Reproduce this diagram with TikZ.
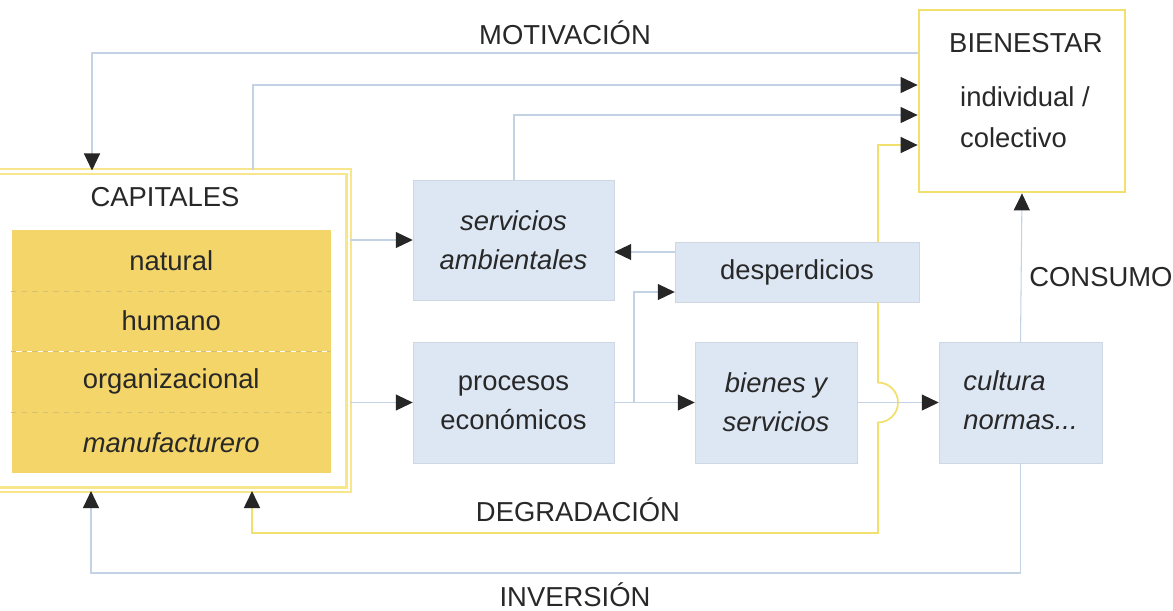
\documentclass[tikz,border=0pt]{standalone}
\usepackage{fontspec}
\setmainfont{Liberation Sans}
\usetikzlibrary{arrows.meta}
\definecolor{boxblue}{RGB}{221,231,244}
\definecolor{capyellow}{RGB}{243,213,105}
\definecolor{frameyellow}{RGB}{248,230,140}
\definecolor{linkblue}{RGB}{196,210,230}
\definecolor{wasteyellow}{RGB}{242,224,110}
\definecolor{txt}{RGB}{40,40,40}
\begin{document}
\begin{tikzpicture}[x=0.02cm, y=-0.02cm,
  every node/.style={font=\fontsize{15.6}{22}\selectfont, text=txt},
  it/.style={font=\fontsize{15.6}{22}\selectfont\itshape},
  box/.style={fill=boxblue, draw=boxblue!85!gray, line width=0.3pt, inner sep=0pt, align=center},
  row/.style={fill=capyellow, minimum width=6.39cm, minimum height=1.215cm, inner sep=0pt},
  frame/.style={draw=frameyellow, double=white, double distance=1.6pt, line width=1.2pt, inner sep=0pt},
  sep/.style={draw=capyellow!75!gray, dashed, line width=0.5pt},
  link/.style={draw=linkblue, line width=0.6pt},
  wasteline/.style={draw=wasteyellow, line width=1pt},
  head/.style={-{Triangle[length=0.34cm, width=0.32cm, color=black!85]}}]
\path[use as bounding box, fill=white] (0, 0) rectangle (1173, 610);

\node (CAPF) at (169.5, 330.75) [frame, minimum width=7.18cm, minimum height=6.37cm] {};
\node (CAPT) at (165, 197) {CAPITALES};
\node (NAT) at (171.25, 260.4) [row] {natural};
\node (HUM) at (171.25, 321.1) [row] {humano};
\node (ORG) at (171.25, 381.9) [row] {organizacional};
\node (MAN) at (171.25, 442.6) [row, it] {manufacturero};
\draw[sep] (NAT.south west) -- (NAT.south east);
\draw[sep] (HUM.south west) -- (HUM.south east);
\draw[sep] (ORG.south west) -- (ORG.south east);

\node (SERV) at (513.5, 240) [box, it, minimum width=4.02cm, minimum height=2.4cm] {servicios\\ambientales};
\node (PROC) at (513.5, 402.5) [box, minimum width=4.02cm, minimum height=2.42cm] {procesos\\económicos};
\node (DESP) at (797, 272) [box, minimum width=4.88cm, minimum height=1.2cm] {desperdicios};
\node (BYS) at (776, 402.5) [box, it, minimum width=3.24cm, minimum height=2.42cm] {bienes y\\servicios};
\node (CULT) at (1020.5, 402.5) [box, it, minimum width=3.26cm, minimum height=2.42cm] {\begin{tabular}{@{}l@{}}cultura\\normas...\end{tabular}};

\node (BIEN) at (1022, 101) [draw=wasteyellow, line width=1.6pt, fill=white, minimum width=4.12cm, minimum height=3.64cm] {};
\node (BT) at (943, 43) [anchor=west] {BIENESTAR};
\node (BI) at (954, 97) [anchor=west] {individual /};
\node (BC) at (954, 138) [anchor=west] {colectivo};

\node (MOT) at (565, 33) {MOTIVACIÓN};
\node (DEG) at (578, 510) {DEGRADACIÓN};
\node (INV) at (575, 595) {INVERSIÓN};
\node (CONS) at (1029, 277) [anchor=west, inner sep=0pt] {CONSUMO};

\coordinate (mot) at (92, 53);
\coordinate (cap2) at (253, 85);
\coordinate (serv2) at (514, 115);
\coordinate (waste) at (878, 145);
\coordinate (hop) at (878, 402.5);
\coordinate (deg2) at (252, 533);
\coordinate (inv) at (91, 573);
\coordinate (dw) at (0, 252);
\coordinate (dp) at (634, 292);

\draw[link, head] (BIEN.west |- mot) -| (CAPF.north -| mot);
\draw[link, head] (CAPF.north -| cap2) |- (BIEN.west |- cap2);
\draw[link, head] (SERV.north -| serv2) |- (BIEN.west |- serv2);
\draw[wasteline, head] (DESP.north -| waste) |- (BIEN.west |- waste);
\draw[wasteline, head] (DESP.south -| hop) -- ([yshift=0.4cm]hop) arc[start angle=90, end angle=-90, radius=0.4cm] -- (hop |- deg2) -| (CAPF.south -| deg2);
\draw[link, head] (CULT.south) |- (inv) -- (CAPF.south -| inv);
\draw[link, head] (CULT.north) -- (BIEN.south);
\draw[link, head] (CAPF.east |- SERV.west) -- (SERV.west);
\draw[link, head] (CAPF.east |- PROC.west) -- (PROC.west);
\draw[link, head] (DESP.west |- dw) -- (SERV.east |- dw);
\draw[link, head] (PROC.east) -- (BYS.west);
\draw[link, head] (dp |- PROC.east) |- (DESP.west |- dp);
\draw[link, head] (BYS.east) -- (CULT.west);
\end{tikzpicture}
\end{document}
